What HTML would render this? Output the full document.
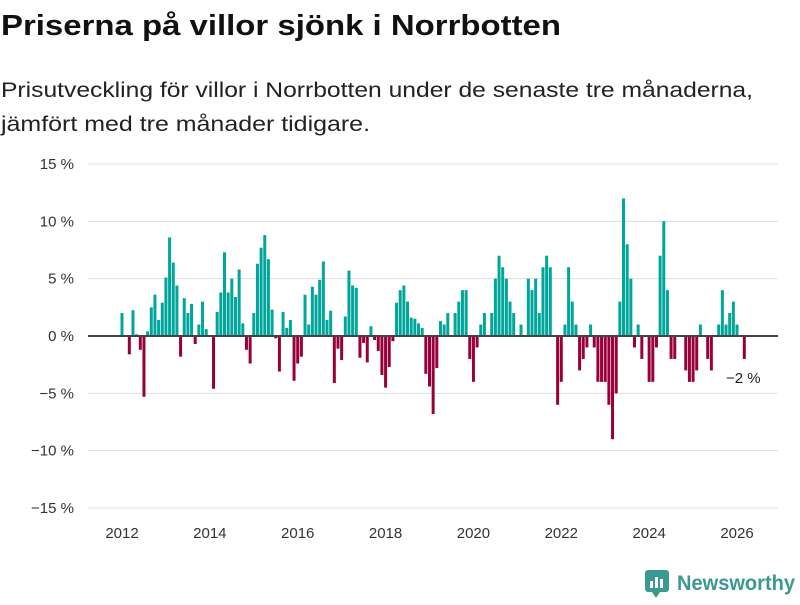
<!DOCTYPE html>
<html><head><meta charset="utf-8"><style>
body{margin:0;background:#fff;width:800px;height:600px;overflow:hidden;font-family:"Liberation Sans",sans-serif}
</style></head><body>
<svg id="chart" width="800" height="600" xmlns="http://www.w3.org/2000/svg" font-family="Liberation Sans, sans-serif">
<text x="1" y="35" font-size="29" font-weight="bold" fill="#111" textLength="560" lengthAdjust="spacingAndGlyphs">Priserna på villor sjönk i Norrbotten</text>
<text x="1" y="97" font-size="21" fill="#222" textLength="752" lengthAdjust="spacingAndGlyphs">Prisutveckling för villor i Norrbotten under de senaste tre månaderna,</text>
<text x="1" y="131" font-size="21" fill="#222" textLength="369" lengthAdjust="spacingAndGlyphs">jämfört med tre månader tidigare.</text>
<g id="grid"></g><g id="bars"></g><g id="axes"></g>
<text x="726" y="383" font-size="15" fill="#222">−2 %</text>
<g>
<rect x="645" y="570" width="24" height="22" rx="3" fill="#3a9a8f"/>
<rect x="650" y="581" width="3" height="7" fill="#fff"/><rect x="655" y="577" width="3" height="11" fill="#fff"/><rect x="660" y="579" width="3" height="9" fill="#fff"/>
<polygon points="652,592 660,592 656,598" fill="#3a9a8f"/>
<text x="677" y="590" font-size="21" font-weight="bold" fill="#3a9a8f" textLength="118" lengthAdjust="spacingAndGlyphs">Newsworthy</text>
</g>
</svg>
<script>
const startYear = 2012;
const values = [2.0,0,-1.6,2.25,0.15,-1.2,-5.3,0.4,2.5,3.6,1.4,2.9,5.1,8.6,6.4,4.4,-1.8,3.3,2.0,2.8,-0.7,1.0,3.0,0.6,0,-4.6,2.1,3.8,7.3,3.8,5.0,3.4,5.8,1.1,-1.2,-2.4,2.0,6.3,7.7,8.8,6.7,2.3,-0.2,
-3.1,2.1,0.7,1.4,-3.9,-2.4,-1.8,3.6,1.0,4.3,3.6,4.9,6.5,1.4,2.2,-4.1,-1.1,-2.1,1.7,5.7,4.4,4.2,-1.9,-0.6,-2.3,0.85,-0.35,-1.3,-3.4,-4.5,-2.7,-0.45,2.9,4.0,4.4,3.0,1.6,1.5,1.1,0.7,-3.3,-4.4,-6.8,-2.8,
1.3,1.0,2.0,0,2.0,3.0,4.0,4.0,-2.0,-4.0,-1.0,1.0,2.0,0,2.0,5.0,7.0,6.0,5.0,3.0,2.0,0,1.0,0,5.0,4.0,5.0,2.0,6.0,7.0,6.0,0,-6.0,-4.0,1.0,6.0,3.0,1.0,-3.0,-2.0,-1.0,1.0,-1.0,
-4,-4,-4,-6,-9,-5,3,12,8,5,-1,1,-2,0,-4,-4,-1,7,10,4,-2,-2,0,0,-3,-4,-4,-3,1,0,-2,-3,0,1,4,1,2,3,1,0,-2];
const yTicks = [15,10,5,0,-5,-10,-15];
const xTicks = [2012,2014,2016,2018,2020,2022,2024,2026];
const NS="http://www.w3.org/2000/svg";
function x(t){return 122+(t-2012)*(737-122)/14;}
function y(v){return 336-v*(336-164)/15;}
function mk(tag,attrs,parent){const e=document.createElementNS(NS,tag);for(const k in attrs)e.setAttribute(k,attrs[k]);parent.appendChild(e);return e;}
const grid=document.getElementById('grid'),bars=document.getElementById('bars'),axes=document.getElementById('axes');
yTicks.forEach(v=>{
  if(v!==0){const l=mk('line',{x1:88,x2:778,y1:y(v),y2:y(v),stroke:'#dedede','stroke-width':1},grid);
  
  }
  const t=mk('text',{x:74,y:y(v)+5,'font-size':15,fill:'#333','text-anchor':'end'},axes);
  t.textContent=(v<0?'−'+(-v):v)+' %';
  
  
});
xTicks.forEach(yr=>{
  const t=mk('text',{x:x(yr),y:538,'font-size':15,fill:'#333','text-anchor':'middle'},axes);
  t.textContent=yr;
  
  
});
values.forEach((v,i)=>{
  const cx=x(startYear+i/12);
  const y0=y(0),y1=y(v);
  const r=mk('rect',{x:cx-1.5,y:Math.min(y0,y1),width:3,height:Math.abs(y1-y0),fill:v>=0?'#00a69b':'#99003a'},bars);
  
  
});
const z=mk('line',{x1:88,x2:778,y1:y(0),y2:y(0),stroke:'#444','stroke-width':2},axes);


</script>
</body></html>
